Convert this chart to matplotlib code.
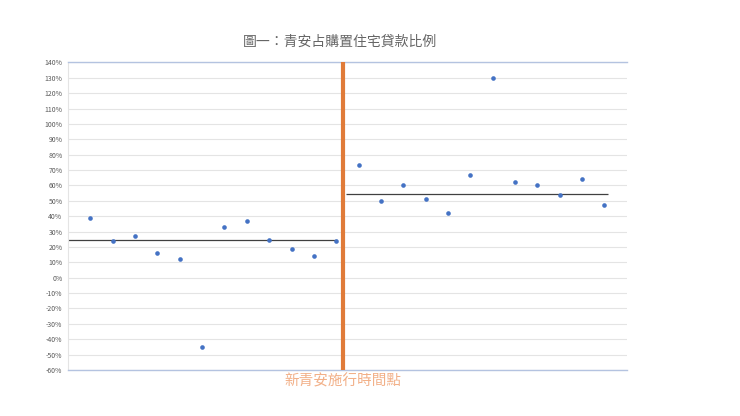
import matplotlib
matplotlib.use("Agg")
import matplotlib.pyplot as plt
from matplotlib.ticker import MultipleLocator, FuncFormatter

plt.rcParams['font.family'] = ['Noto Sans CJK TC', 'DejaVu Sans']

# data (percent)
before = [39, 24, 27, 16, 12, -45, 33, 37, 24.5, 19, 14, 24]
after = [73, 50, 60, 51, 42, 67, 130, 62, 60, 54, 64, 47]
before_level = 24.3
after_level = 54.5
policy_x = 12.3

title = "圖一：青安占購置住宅貸款比例"
xlabel = "新青安施行時間點"

BLUE = "#4472C4"
ORANGE = "#E07B39"
GRID = "#E4E4E4"
EDGE = "#B4C3E0"

fig = plt.figure(figsize=(7.4, 4.16), dpi=100)
ax = fig.add_axes([0.0919, 0.1106, 0.7551, 0.7392])

values = before + after
xs = list(range(1, len(values) + 1))
ax.scatter(xs, values, s=11, color=BLUE, zorder=3, linewidths=0)

ax.hlines(before_level, 0, 12.03, color="#404040", linewidth=0.9, zorder=2)
ax.hlines(after_level, 12.46, 24.18, color="#404040", linewidth=0.9, zorder=2)
ax.axvline(policy_x, color=ORANGE, linewidth=3.0, zorder=4)

ax.set_xlim(0, 25)
ax.set_ylim(-60, 140)
ax.yaxis.set_major_locator(MultipleLocator(10))
ax.yaxis.set_major_formatter(FuncFormatter(lambda v, p: f"{v:.0f}%"))
ax.grid(axis="y", color=GRID, linewidth=0.8, zorder=0)
ax.set_xticks([])
ax.tick_params(axis="y", length=0, labelsize=5, labelcolor="#595959", pad=4)

for side in ["top", "bottom"]:
    ax.spines[side].set_color(EDGE)
    ax.spines[side].set_linewidth(1.0)
ax.spines["left"].set_color(GRID)
ax.spines["left"].set_linewidth(0.8)
ax.spines["right"].set_visible(False)

fig.text(340 / 740, 1 - 42 / 416, title, ha="center", va="center",
         fontsize=10, color="#666666")
fig.text(343 / 740, 1 - 381 / 416, xlabel, ha="center", va="center",
         fontsize=10.5, color="#F2B088")

fig.savefig("out.png", dpi=100)
